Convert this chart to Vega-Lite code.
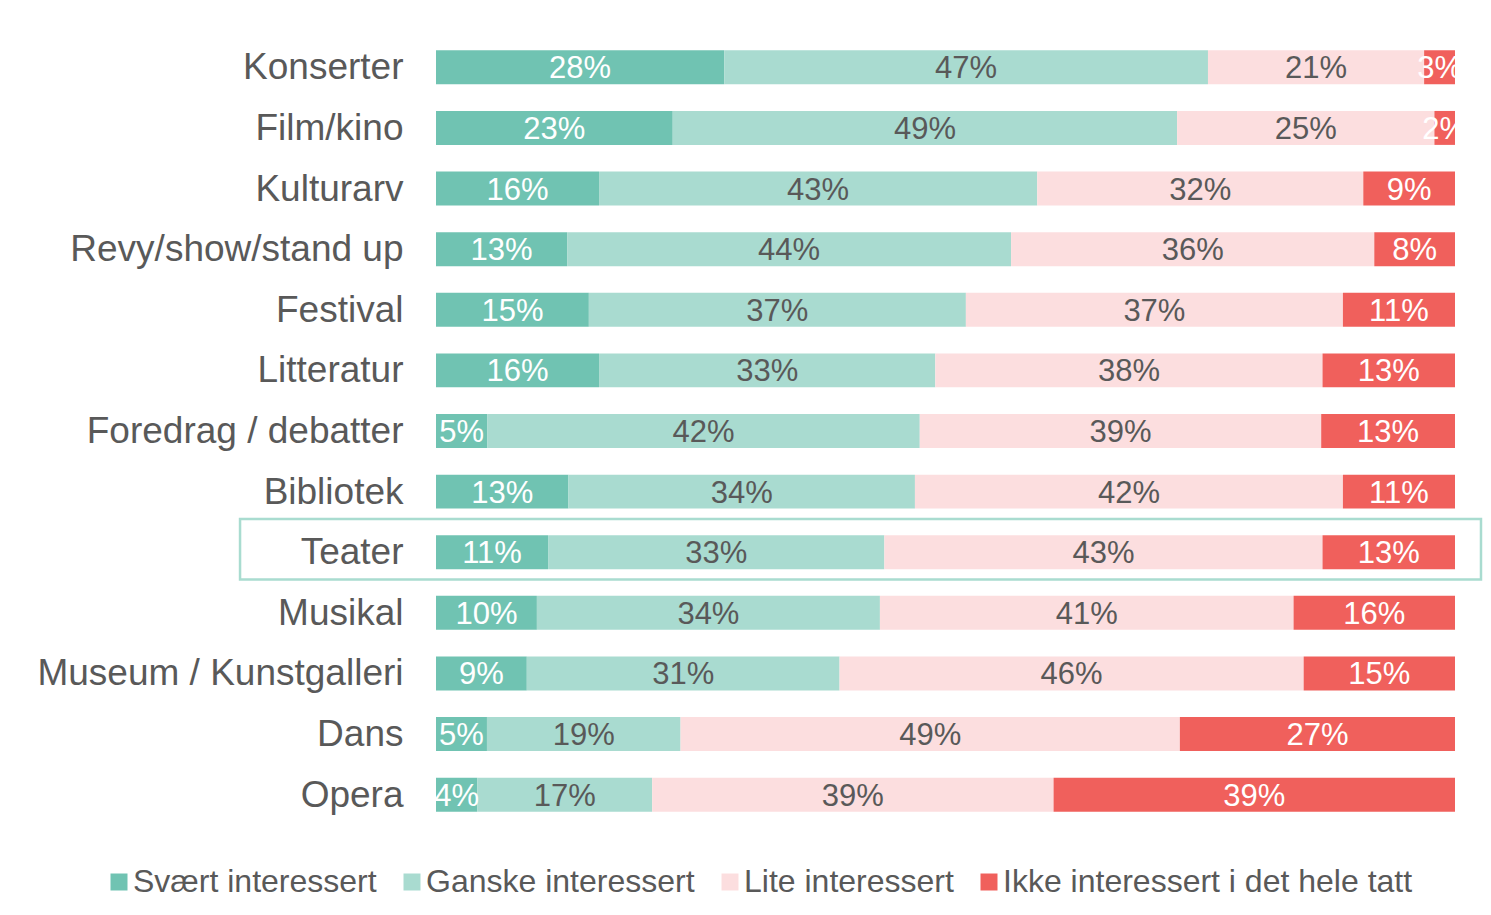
{
  "$schema": "https://vega.github.io/schema/vega-lite/v6.json",
  "autosize": {"type": "none"},
  "width": 1019,
  "height": 788,
  "padding": {"left": 436, "top": 37, "right": 36, "bottom": 90},
  "background": "white",
  "config": {
    "view": {"stroke": null},
    "font": "Liberation Sans"
  },
  "data": {
    "values": [
      {"category": "Konserter", "response": "Svært interessert", "k": 1, "value": 28},
      {"category": "Konserter", "response": "Ganske interessert", "k": 2, "value": 47},
      {"category": "Konserter", "response": "Lite interessert", "k": 3, "value": 21},
      {"category": "Konserter", "response": "Ikke interessert i det hele tatt", "k": 4, "value": 3},
      {"category": "Film/kino", "response": "Svært interessert", "k": 1, "value": 23},
      {"category": "Film/kino", "response": "Ganske interessert", "k": 2, "value": 49},
      {"category": "Film/kino", "response": "Lite interessert", "k": 3, "value": 25},
      {"category": "Film/kino", "response": "Ikke interessert i det hele tatt", "k": 4, "value": 2},
      {"category": "Kulturarv", "response": "Svært interessert", "k": 1, "value": 16},
      {"category": "Kulturarv", "response": "Ganske interessert", "k": 2, "value": 43},
      {"category": "Kulturarv", "response": "Lite interessert", "k": 3, "value": 32},
      {"category": "Kulturarv", "response": "Ikke interessert i det hele tatt", "k": 4, "value": 9},
      {"category": "Revy/show/stand up", "response": "Svært interessert", "k": 1, "value": 13},
      {"category": "Revy/show/stand up", "response": "Ganske interessert", "k": 2, "value": 44},
      {"category": "Revy/show/stand up", "response": "Lite interessert", "k": 3, "value": 36},
      {"category": "Revy/show/stand up", "response": "Ikke interessert i det hele tatt", "k": 4, "value": 8},
      {"category": "Festival", "response": "Svært interessert", "k": 1, "value": 15},
      {"category": "Festival", "response": "Ganske interessert", "k": 2, "value": 37},
      {"category": "Festival", "response": "Lite interessert", "k": 3, "value": 37},
      {"category": "Festival", "response": "Ikke interessert i det hele tatt", "k": 4, "value": 11},
      {"category": "Litteratur", "response": "Svært interessert", "k": 1, "value": 16},
      {"category": "Litteratur", "response": "Ganske interessert", "k": 2, "value": 33},
      {"category": "Litteratur", "response": "Lite interessert", "k": 3, "value": 38},
      {"category": "Litteratur", "response": "Ikke interessert i det hele tatt", "k": 4, "value": 13},
      {"category": "Foredrag / debatter", "response": "Svært interessert", "k": 1, "value": 5},
      {"category": "Foredrag / debatter", "response": "Ganske interessert", "k": 2, "value": 42},
      {"category": "Foredrag / debatter", "response": "Lite interessert", "k": 3, "value": 39},
      {"category": "Foredrag / debatter", "response": "Ikke interessert i det hele tatt", "k": 4, "value": 13},
      {"category": "Bibliotek", "response": "Svært interessert", "k": 1, "value": 13},
      {"category": "Bibliotek", "response": "Ganske interessert", "k": 2, "value": 34},
      {"category": "Bibliotek", "response": "Lite interessert", "k": 3, "value": 42},
      {"category": "Bibliotek", "response": "Ikke interessert i det hele tatt", "k": 4, "value": 11},
      {"category": "Teater", "response": "Svært interessert", "k": 1, "value": 11},
      {"category": "Teater", "response": "Ganske interessert", "k": 2, "value": 33},
      {"category": "Teater", "response": "Lite interessert", "k": 3, "value": 43},
      {"category": "Teater", "response": "Ikke interessert i det hele tatt", "k": 4, "value": 13},
      {"category": "Musikal", "response": "Svært interessert", "k": 1, "value": 10},
      {"category": "Musikal", "response": "Ganske interessert", "k": 2, "value": 34},
      {"category": "Musikal", "response": "Lite interessert", "k": 3, "value": 41},
      {"category": "Musikal", "response": "Ikke interessert i det hele tatt", "k": 4, "value": 16},
      {"category": "Museum / Kunstgalleri", "response": "Svært interessert", "k": 1, "value": 9},
      {"category": "Museum / Kunstgalleri", "response": "Ganske interessert", "k": 2, "value": 31},
      {"category": "Museum / Kunstgalleri", "response": "Lite interessert", "k": 3, "value": 46},
      {"category": "Museum / Kunstgalleri", "response": "Ikke interessert i det hele tatt", "k": 4, "value": 15},
      {"category": "Dans", "response": "Svært interessert", "k": 1, "value": 5},
      {"category": "Dans", "response": "Ganske interessert", "k": 2, "value": 19},
      {"category": "Dans", "response": "Lite interessert", "k": 3, "value": 49},
      {"category": "Dans", "response": "Ikke interessert i det hele tatt", "k": 4, "value": 27},
      {"category": "Opera", "response": "Svært interessert", "k": 1, "value": 4},
      {"category": "Opera", "response": "Ganske interessert", "k": 2, "value": 17},
      {"category": "Opera", "response": "Lite interessert", "k": 3, "value": 39},
      {"category": "Opera", "response": "Ikke interessert i det hele tatt", "k": 4, "value": 39}
    ]
  },
  "transform": [
    {"stack": "value", "groupby": ["category"], "sort": [{"field": "k", "order": "ascending"}], "offset": "normalize", "as": ["x0", "x1"]},
    {"calculate": "(datum.x0 + datum.x1) / 2", "as": "xm"},
    {"calculate": "datum.value + '%'", "as": "label"}
  ],
  "encoding": {
    "y": {
      "field": "category",
      "type": "nominal",
      "sort": ["Konserter", "Film/kino", "Kulturarv", "Revy/show/stand up", "Festival", "Litteratur", "Foredrag / debatter", "Bibliotek", "Teater", "Musikal", "Museum / Kunstgalleri", "Dans", "Opera"],
      "scale": {"paddingInner": 0, "paddingOuter": 0},
      "axis": {
        "title": null,
        "domain": false,
        "ticks": false,
        "labelPadding": 33,
        "labelFontSize": 37,
        "labelColor": "#595959",
        "labelFont": "Liberation Sans",
        "labelLimit": 500,
        "labelOffset": 1
      }
    }
  },
  "layer": [
    {
      "mark": {"type": "bar", "height": {"band": 0.56}},
      "encoding": {
        "x": {"field": "x0", "type": "quantitative", "axis": null, "scale": {"domain": [0, 1], "nice": false, "zero": false}},
        "x2": {"field": "x1"},
        "color": {
          "field": "response",
          "type": "nominal",
          "scale": {
            "domain": ["Svært interessert", "Ganske interessert", "Lite interessert", "Ikke interessert i det hele tatt"],
            "range": ["#70C3B2", "#A9DBD0", "#FCDEDF", "#F0605C"]
          },
          "legend": {
            "orient": "none",
            "direction": "horizontal",
            "legendX": -333,
            "legendY": 829,
            "title": null,
            "symbolType": "square",
            "symbolSize": 289,
            "symbolStrokeWidth": 0,
            "labelFontSize": 32,
            "labelFont": "Liberation Sans",
            "labelColor": "#595959",
            "labelOffset": -2,
            "columnPadding": 19,
            "labelLimit": 600
          }
        }
      }
    },
    {
      "mark": {"type": "text", "fontSize": 31, "font": "Liberation Sans", "baseline": "middle", "align": "center", "dy": 2},
      "encoding": {
        "x": {"field": "xm", "type": "quantitative"},
        "text": {"field": "label", "type": "nominal"},
        "color": {
          "condition": {"test": "datum.k == 1 || datum.k == 4", "value": "#FFFFFF"},
          "value": "#595959"
        }
      }
    },
    {
      "transform": [{"filter": "datum.category == 'Teater' && datum.k == 1"}],
      "mark": {"type": "rect", "filled": false, "stroke": "#A9DCD0", "strokeWidth": 2.5, "clip": false, "yOffset": -3},
      "encoding": {
        "x": {"datum": -0.1923, "type": "quantitative"},
        "x2": {"datum": 1.0255}
      }
    }
  ]
}
